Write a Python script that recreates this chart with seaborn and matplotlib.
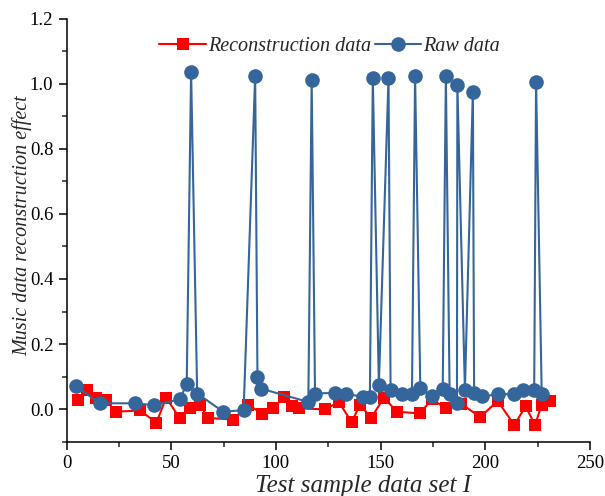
import numpy as np
import pandas as pd
import matplotlib
matplotlib.use("Agg")
import matplotlib.pyplot as plt
import seaborn as sns
from matplotlib.ticker import MultipleLocator

# ---- data ----
raw_x = [4.4, 15.8, 32.5, 42.0, 54.0, 57.4, 59.5, 62.4, 74.9, 84.6, 90.1, 91.2, 92.9,
         115.5, 117.1, 118.7, 128.2, 133.3, 141.7, 144.9, 146.3, 149.2, 153.8, 154.8,
         160.3, 165.0, 166.5, 169.0, 174.6, 179.7, 181.2, 183.0, 186.5, 186.7, 190.3,
         194.1, 194.7, 198.6, 205.9, 213.9, 218.2, 223.4, 224.3, 227.0]
raw_y = [0.071, 0.018, 0.018, 0.012, 0.030, 0.076, 1.036, 0.048, -0.008, -0.003, 1.023, 0.100, 0.063,
         0.022, 1.011, 0.048, 0.050, 0.048, 0.037, 0.037, 1.017, 0.074, 1.017, 0.060,
         0.045, 0.045, 1.023, 0.064, 0.040, 0.062, 1.023, 0.046, 0.020, 0.997, 0.060,
         0.976, 0.050, 0.040, 0.045, 0.047, 0.058, 0.058, 1.006, 0.045]

rec_x = [5.5, 10.0, 14.0, 19.0, 23.5, 35.2, 42.9, 47.6, 54.0, 59.2, 63.9, 67.4, 79.7, 86.8,
         93.3, 98.7, 104.0, 107.9, 111.1, 123.5, 130.1, 136.2, 140.2, 145.5, 151.6, 157.9,
         168.7, 174.6, 181.1, 188.6, 197.6, 206.0, 213.9, 219.3, 223.8, 227.0, 231.0]
rec_y = [0.027, 0.058, 0.035, 0.027, -0.008, -0.004, -0.042, 0.035, -0.027, 0.004, 0.014, -0.027, -0.032, 0.014,
         -0.014, 0.004, 0.037, 0.009, 0.003, -0.001, 0.022, -0.040, 0.014, -0.027, 0.035, -0.008,
         -0.013, 0.030, 0.003, 0.016, -0.024, 0.025, -0.049, 0.009, -0.049, 0.014, 0.025]

series_names = ["Reconstruction data", "Raw data"]
x_label = "Test sample data set I"
y_label = "Music data reconstruction effect"

sns.set_theme(style="ticks")
plt.rcParams['font.family'] = ['Liberation Serif', 'DejaVu Serif']

fig = plt.figure(figsize=(6.05, 4.96), dpi=100)
ax = fig.add_axes([0.110, 0.1095, 0.865, 0.853])

red = "#ff0000"
blue = "#34659b"

df_rec = pd.DataFrame({"x": rec_x, "y": rec_y})
df_raw = pd.DataFrame({"x": raw_x, "y": raw_y})

sns.lineplot(data=df_rec, x="x", y="y", ax=ax, color=red, marker="s", markersize=9,
             markeredgewidth=0, linewidth=1.5, sort=False, estimator=None,
             label=series_names[0])
sns.lineplot(data=df_raw, x="x", y="y", ax=ax, color=blue, marker="o", markersize=10.5,
             markeredgewidth=0, linewidth=1.5, sort=False, estimator=None,
             label=series_names[1])

ax.set_xlim(0, 250)
ax.set_ylim(-0.1, 1.2)
ax.xaxis.set_major_locator(MultipleLocator(50))
ax.xaxis.set_minor_locator(MultipleLocator(25))
ax.yaxis.set_major_locator(MultipleLocator(0.2))
ax.yaxis.set_minor_locator(MultipleLocator(0.1))
ax.yaxis.set_major_formatter(matplotlib.ticker.FormatStrFormatter('%.1f'))

for s in ["top", "right"]:
    ax.spines[s].set_visible(False)
for s in ["left", "bottom"]:
    ax.spines[s].set_color("black")
    ax.spines[s].set_linewidth(1.1)

ax.tick_params(axis="both", which="major", direction="out", length=6, width=1.1,
               labelsize=13.5, colors="black")
ax.tick_params(axis="both", which="minor", direction="out", length=3.5, width=1.1)

ax.set_xlabel(x_label, fontsize=18, style="italic")
ax.xaxis.set_label_coords(0.566, -0.078)
ax.set_ylabel(y_label, fontsize=14.5, style="italic")
ax.yaxis.set_label_coords(-0.066, 0.51)

leg = ax.legend(loc="center", bbox_to_anchor=(0.503, 0.935), ncol=2, frameon=False,
                prop={"style": "italic", "size": 14.5}, handlelength=2.3,
                handletextpad=0.1, columnspacing=0.2)

fig.savefig("out.png", dpi=100)
